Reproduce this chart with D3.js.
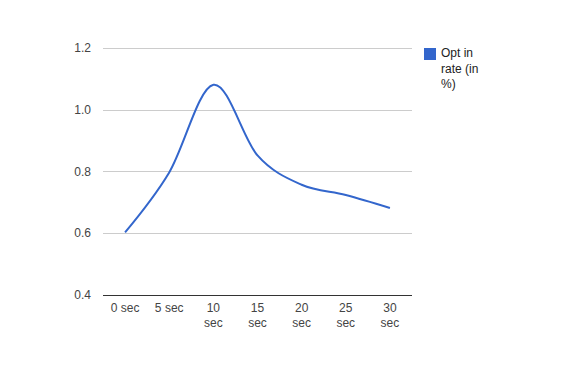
<!DOCTYPE html>
<html>
<head>
<meta charset="utf-8">
<script src="https://d3js.org/d3.v7.min.js"></script>
<style>
  body { margin: 0; background: #fff; }
  svg text { font-family: Arial, "Liberation Sans", sans-serif; font-size: 12px; }
</style>
</head>
<body>
<div id="chart"></div>
<script>
// data
var categories = ["0 sec", "5 sec", "10 sec", "15 sec", "20 sec", "25 sec", "30 sec"];
var optInRate = [0.603, 0.797, 1.081, 0.852, 0.757, 0.724, 0.682];
var yTicks = [0.4, 0.6, 0.8, 1.0, 1.2];
var seriesName = "Opt in rate (in %)";

var svgWidth = 578;
var svgHeight = 373;

// chart area
var margin = { top: 48, right: 166, bottom: 78, left: 103 };
var width = svgWidth - margin.left - margin.right;
var height = svgHeight - margin.top - margin.bottom;

var svg = d3.select("#chart")
  .append("svg")
  .attr("width", svgWidth)
  .attr("height", svgHeight);

var chartGroup = svg.append("g")
  .attr("transform", `translate(${margin.left}, ${margin.top})`);

var x = d3.scalePoint()
  .domain(categories)
  .range([0, width])
  .padding(0.5);

var y = d3.scaleLinear()
  .domain([0.4, 1.2])
  .range([height, 0]);

// gridlines
chartGroup.selectAll(".grid")
  .data(yTicks.slice(1))
  .enter()
  .append("line")
  .attr("x1", 0)
  .attr("x2", width)
  .attr("y1", d => Math.round(y(d)) + 0.5)
  .attr("y2", d => Math.round(y(d)) + 0.5)
  .attr("stroke", "#cccccc")
  .attr("stroke-width", 1);

// y labels
chartGroup.selectAll(".ylab")
  .data(yTicks)
  .enter()
  .append("text")
  .attr("x", -12)
  .attr("y", d => y(d))
  .attr("dy", "0.35em")
  .attr("text-anchor", "end")
  .attr("fill", "#444444")
  .text(d => d.toFixed(1));

// baseline
chartGroup.append("line")
  .attr("x1", 0)
  .attr("x2", width)
  .attr("y1", height + 0.5)
  .attr("y2", height + 0.5)
  .attr("stroke", "#333333")
  .attr("stroke-width", 1);

// x labels, wrapped when too wide
var xLabels = chartGroup.selectAll(".xlab")
  .data(categories)
  .enter()
  .append("text")
  .attr("text-anchor", "middle")
  .attr("fill", "#444444")
  .attr("transform", d => `translate(${x(d)}, ${height + 17})`)
  .text(d => d);

xLabels.each(function(d) {
  var t = d3.select(this);
  if (this.getComputedTextLength() > 32) {
    t.text(null);
    d.split(" ").forEach(function(w, i) {
      t.append("tspan").attr("x", 0).attr("y", i * 15).text(w);
    });
  }
});

// line
var line = d3.line()
  .x((d, i) => x(categories[i]))
  .y(d => y(d))
  .curve(d3.curveCardinal.tension(0));

chartGroup.append("path")
  .datum(optInRate)
  .attr("fill", "none")
  .attr("stroke", "#3366cc")
  .attr("stroke-width", 2)
  .attr("d", line);

// legend
var legend = svg.append("g")
  .attr("transform", "translate(424, 48)");

legend.append("rect")
  .attr("width", 12)
  .attr("height", 12)
  .attr("fill", "#3366cc");

var legendText = legend.append("text")
  .attr("fill", "#222222")
  .attr("x", 17)
  .attr("y", 9);

// word wrap the legend label
var words = seriesName.split(" ");
var lines = [];
var current = "";
var probe = legend.append("text").attr("visibility", "hidden");
words.forEach(function(w) {
  var tryLine = current ? current + " " + w : w;
  probe.text(tryLine);
  if (probe.node().getComputedTextLength() > 48 && current) {
    lines.push(current);
    current = w;
  } else {
    current = tryLine;
  }
});
lines.push(current);
probe.remove();

lines.forEach(function(l, i) {
  legendText.append("tspan")
    .attr("x", 17)
    .attr("y", 9 + i * 15.5)
    .text(l);
});
</script>
</body>
</html>
